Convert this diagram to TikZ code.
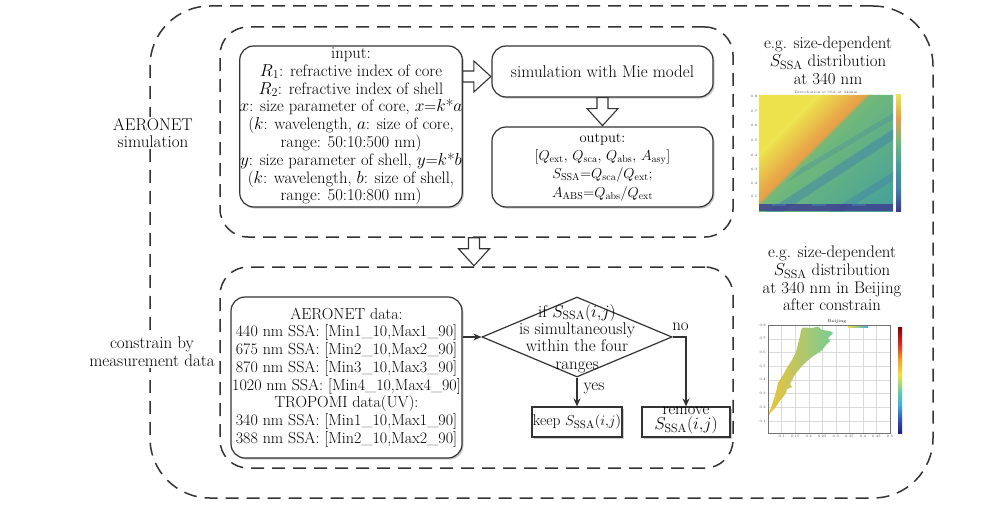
\documentclass[tikz,border=0pt]{standalone}
\usetikzlibrary{shapes.geometric,shadows,calc,arrows.meta}
\definecolor{lineC}{HTML}{333333}
\definecolor{hmY}{HTML}{EDE24C}
\definecolor{hmO}{HTML}{E6A048}
\definecolor{hmG}{HTML}{72B97A}
\definecolor{hmT}{HTML}{44A09A}
\definecolor{hmB}{HTML}{3F7FB0}
\definecolor{hmP}{HTML}{3D3A8E}
\definecolor{jDR}{HTML}{7F0000}
\definecolor{jR}{HTML}{E03020}
\definecolor{jO}{HTML}{F5A020}
\definecolor{jY}{HTML}{F0E040}
\definecolor{jG}{HTML}{60D0A0}
\definecolor{jC}{HTML}{40B0E0}
\definecolor{jB}{HTML}{3050C0}
\definecolor{jDB}{HTML}{202080}
\definecolor{bandL}{HTML}{EFC23A}
\definecolor{bandM}{HTML}{D2DC45}
\definecolor{bandR}{HTML}{78CC96}
\definecolor{gridC}{HTML}{DADADA}
\begin{document}
\begin{tikzpicture}[x=1pt,y=-1pt,
  txt/.style={font=\fontsize{17}{17.8}\selectfont, align=center, inner sep=0pt, text=black},
  dashbox/.style={draw=lineC, line width=1.5pt, dash pattern=on 13pt off 8pt, inner sep=0pt},
  rbox/.style={txt, draw=lineC, line width=1.2pt, rounded corners=14pt, fill=white,
    drop shadow={shadow xshift=1.6pt, shadow yshift=-1.6pt, fill=black!40}},
  sqbox/.style={draw=lineC, line width=1.2pt, fill=white, inner sep=0pt,
    drop shadow={shadow xshift=1.8pt, shadow yshift=-1.8pt, fill=black!40}},
  flow/.style={draw=lineC, line width=1.2pt, -{Stealth[length=8pt,width=7pt]}},
  blk/.style={draw=lineC, line width=1.1pt, fill=white, line join=miter},
  ticklab/.style={font=\fontsize{3.5}{4}\selectfont, text=black!70, inner sep=0pt},
  barrow/.pic={\draw[blk] (0,-5.5) -- (11,-5.5) -- (11,-15.5) -- (28,0) -- (11,15.5) -- (11,5.5) -- (0,5.5) -- cycle;}
]
\useasboundingbox (0,0) rectangle (1000,505);

% dashed containers
\node[dashbox, rounded corners=60pt, minimum width=783pt, minimum height=492pt] (outer) at (541.5,252) {};
\node[dashbox, rounded corners=28pt, minimum width=513pt, minimum height=210pt] (topgrp) at (476.5,132) {};
\node[dashbox, rounded corners=28pt, minimum width=513pt, minimum height=201pt] (botgrp) at (476.5,367.5) {};

% side labels
\node[txt, fill=white, inner sep=1.5pt] (lab1) at (153,133) {AERONET\\simulation};
\node[txt, fill=white, inner sep=1.5pt, font=\fontsize{17}{18}\selectfont] (lab2) at (152,352) {constrain by\\measurement data};

% top group
\node[rbox, minimum width=222pt, minimum height=161pt, font=\fontsize{16.6}{17.8}\selectfont] (inp) at (351,126.5)
 {input:\\ $R_1$: refractive index of core\\ $R_2$: refractive index of shell\\
  $x$: size parameter of core, $x$=$k$*$a$\\ ($k$: wavelength, $a$: size of core,\\
  range: 50:10:500 nm)\\ $y$: size parameter of shell, $y$=$k$*$b$\\
  ($k$: wavelength, $b$: size of shell,\\ range: 50:10:800 nm)};
\node[rbox, minimum width=221pt, minimum height=51pt] (sim) at (602.5,71.5) {simulation with Mie model};
\node[rbox, minimum width=221pt, minimum height=80pt, font=\fontsize{14.5}{18.3}\selectfont] (out) at (602.5,167)
 {output:\\ {[}$Q_{\mathrm{ext}}$, $Q_{\mathrm{sca}}$, $Q_{\mathrm{abs}}$, $A_{\mathrm{asy}}${]}\\
  $S_{\mathrm{SSA}}$=$Q_{\mathrm{sca}}$/$Q_{\mathrm{ext}}$;\\
  $A_{\mathrm{ABS}}$=$Q_{\mathrm{abs}}$/$Q_{\mathrm{ext}}$};

\pic at ($(inp.east |- sim.west)+(0,5)$) {barrow};
\pic[rotate=-90] at (sim.south) {barrow};
\pic[rotate=-90] at ($(topgrp.south)+(-2.5,0)$) {barrow};

% bottom group
\node[rbox, minimum width=231pt, minimum height=161pt, font=\fontsize{16}{17.7}\selectfont] (aer) at (346.5,377.5)
 {AERONET data:\\ 440 nm SSA: {[}Min1\_10,Max1\_90{]}\\ 675 nm SSA: {[}Min2\_10,Max2\_90{]}\\
  870 nm SSA: {[}Min3\_10,Max3\_90{]}\\ 1020 nm SSA: {[}Min4\_10,Max4\_90{]}\\ TROPOMI data(UV):\\
  340 nm SSA: {[}Min1\_10,Max1\_90{]}\\ 388 nm SSA: {[}Min2\_10,Max2\_90{]}};

\node[diamond, draw=lineC, line width=1.2pt, minimum width=190pt, minimum height=80pt, inner sep=0pt] (dec) at (577,337) {};
\node[txt, font=\fontsize{17}{17.4}\selectfont] (dectext) at (577,338.5)
 {if $S_{\mathrm{SSA}}(i{,}j)$\\ is simultaneously\\ within the four\\ ranges};

\node[sqbox, minimum width=90pt, minimum height=30pt] (keep) at (577,422) {};
\node[txt, font=\fontsize{15.5}{16}\selectfont] (keeptext) at (keep) {keep $S_{\mathrm{SSA}}(i{,}j)$};
\node[sqbox, minimum width=88pt, minimum height=30pt] (rem) at (686,422) {};
\node[txt, font=\fontsize{16.5}{15}\selectfont] (remtext) at (686,420.5) {remove\\$S_{\mathrm{SSA}}(i{,}j)$};

\draw[flow] (aer.east |- dec.west) -- (dec.west);
\draw[flow] (dec.south) -- (keep.north);
\draw[flow] (dec.east) -| (rem.north);
\node[txt] (yes) at (594,388) {yes};
\node[txt] (no) at (680.5,327) {no};

% right side captions
\node[txt, font=\fontsize{16.8}{18}\selectfont] (cap1) at (828,61) {e.g. size-dependent\\$S_{\mathrm{SSA}}$ distribution\\at 340 nm};
\node[txt, font=\fontsize{16.8}{17.7}\selectfont] (cap2) at (832,278.5) {e.g. size-dependent\\$S_{\mathrm{SSA}}$ distribution\\at 340 nm in Beijing\\after constrain};

% ---------- plot 1 (heat map) ----------
\begin{scope}
 \clip (759,95) rectangle (893,211);
 % green -> teal (s from 110 to 250)
 \foreach \i in {0,...,27} {
   \pgfmathsetmacro{\a}{110+5*\i}
   \pgfmathsetmacro{\b}{\a+5.8}
   \pgfmathtruncatemacro{\p}{100-100*\i/27}
   \fill[hmG!\p!hmT] (759+\a,95) -- (759+\b,95) -- (759,95+\b) -- (759,95+\a) -- cycle;
 }
 % blue diagonal stripes
 \draw[hmB, line width=9pt, opacity=0.45] (768,216) -- (900,130);
 \draw[hmB, line width=7pt, opacity=0.4] (826,218) -- (900,172);
 \draw[hmB, line width=5pt, opacity=0.25] (759,196) -- (900,112);
 % yellow -> orange (s 0 .. 110)
 \fill[hmY] (759,95) -- (819,95) -- (759,155) -- cycle;
 \foreach \i in {0,...,11} {
   \pgfmathsetmacro{\a}{60+4*\i}
   \pgfmathsetmacro{\b}{\a+4.8}
   \pgfmathtruncatemacro{\p}{100-100*\i/11}
   \fill[hmY!\p!hmO] (759+\a,95) -- (759+\b,95) -- (759,95+\b) -- (759,95+\a) -- cycle;
 }
 \foreach \i in {0,...,3} {
   \pgfmathsetmacro{\a}{106+2*\i}
   \pgfmathsetmacro{\b}{\a+2.8}
   \pgfmathtruncatemacro{\p}{100-100*\i/3}
   \fill[hmO!\p!hmG] (759+\a,95) -- (759+\b,95) -- (759,95+\b) -- (759,95+\a) -- cycle;
 }
 % dark strip at the bottom
 \fill[hmP, opacity=0.8] (759,204) rectangle (893,211);
 \fill[hmB, opacity=0.6] (772,204) rectangle (786,206);
 \fill[hmB, opacity=0.6] (812,204) rectangle (826,206);
 \fill[hmB, opacity=0.6] (852,204) rectangle (866,206);
\end{scope}
\shade[top color=hmY, bottom color=hmO] (896,95) rectangle (901,118);
\shade[top color=hmO, bottom color=hmG] (896,118) rectangle (901,142);
\shade[top color=hmG, bottom color=hmT] (896,142) rectangle (901,165);
\shade[top color=hmT, bottom color=hmB] (896,165) rectangle (901,190);
\shade[top color=hmB, bottom color=hmP] (896,190) rectangle (901,211);
\node[ticklab] (p1t) at (826,92) {Distribution of SSA at 340nm};
\foreach \v/\yy in {0.8/96,0.7/111,0.6/125,0.5/140,0.4/155,0.3/169,0.2/183,0.1/196}
  \node[ticklab, anchor=east] at (757.5,\yy) {\v};

% ---------- plot 2 (constrained) ----------
\fill[white] (768,325) rectangle (890,433);
\foreach \xx in {781.6,795.2,808.7,822.2,835.8,849.3,862.9,876.4}
  \draw[gridC, line width=0.4pt] (\xx,325) -- (\xx,433);
\foreach \yy in {338.7,352.4,366.1,379.8,393.5,407.2,420.9}
  \draw[gridC, line width=0.4pt] (768,\yy) -- (890,\yy);
\shade[left color=bandL, middle color=bandM, right color=bandR]
 (768,415) -- (772,405) -- (776,392) -- (778,383) -- (783,375) -- (788,366) -- (792,360)
 -- (796,352) -- (798,344) -- (800,336) -- (801,330) -- (803,327.5) -- (812,328) -- (818,326.5)
 -- (822,330) -- (830,331) -- (833,333) -- (828,338) -- (830,341) -- (826,345) -- (822,350)
 -- (818,353) -- (812,357) -- (806,362) -- (802,366) -- (797,372) -- (794,376) -- (792,380)
 -- (790,384) -- (792,387) -- (787,389) -- (786,393) -- (783,397) -- (779,402) -- (775,408)
 -- (771,412) -- (768,416.5) -- cycle;
\shade[left color=jY, right color=jC] (848,325.2) rectangle (868,327.2);
\draw[black!55, line width=0.4pt] (768,325) rectangle (890,433);
\node[ticklab, font=\fontsize{4}{4}\bfseries] (p2t) at (837,321.5) {Beijing};
\foreach \v/\yy in {0.8/325,0.7/338.7,0.6/352.4,0.5/366.1,0.4/379.8,0.3/393.5,0.2/407.2,0.1/420.9}
  \node[ticklab, anchor=east] at (766,\yy) {\v};
\foreach \v/\xx in {0.1/781.6,0.15/795.2,0.2/808.7,0.25/822.2,0.3/835.8,0.35/849.3,0.4/862.9,0.45/876.4,0.5/890}
  \node[ticklab, anchor=north] at (\xx,435) {\v};
\shade[top color=jDR, bottom color=jR] (898,327) rectangle (902,345);
\shade[top color=jR, bottom color=jO] (898,345) rectangle (902,360);
\shade[top color=jO, bottom color=jY] (898,360) rectangle (902,375);
\shade[top color=jY, bottom color=jG] (898,375) rectangle (902,392);
\shade[top color=jG, bottom color=jC] (898,392) rectangle (902,405);
\shade[top color=jC, bottom color=jB] (898,405) rectangle (902,420);
\shade[top color=jB, bottom color=jDB] (898,420) rectangle (902,433);
\end{tikzpicture}
\end{document}
